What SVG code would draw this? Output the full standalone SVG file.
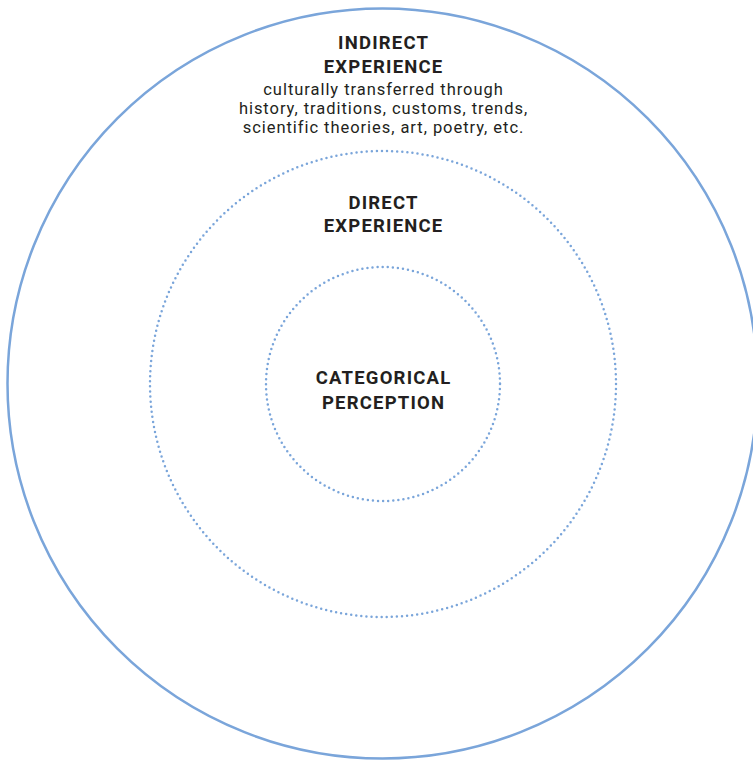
<svg xmlns="http://www.w3.org/2000/svg" width="753" height="760" viewBox="0 0 753 760">
  <style>
    .ring { fill: none; stroke: #7aa5da; }
    .solid { stroke-width: 2.5; }
    .dotted { stroke-width: 2.5; stroke-dasharray: 0 5.1; stroke-linecap: round; }
    .title { font-family: Roboto, "Liberation Sans", sans-serif; font-weight: 700; font-size: 18.5px; fill: #231f20; text-anchor: middle; letter-spacing: 1.2px; }
    .note { font-family: Roboto, "Liberation Sans", sans-serif; font-weight: 400; font-size: 16.5px; fill: #231f20; text-anchor: middle; letter-spacing: 0.95px; }
  </style>
  <rect width="753" height="760" fill="#ffffff"/>
  <g id="indirect-experience">
    <circle class="ring solid" cx="382.5" cy="383.5" r="375"/>
    <text class="title" x="383.6" y="48.5">INDIRECT</text>
    <text class="title" x="383.6" y="72.5">EXPERIENCE</text>
    <text class="note" x="383.5" y="95">culturally transferred through</text>
    <text class="note" x="383.5" y="114">history, traditions, customs, trends,</text>
    <text class="note" x="383.5" y="133">scientific theories, art, poetry, etc.</text>
  </g>
  <g id="direct-experience">
    <circle class="ring dotted" cx="383" cy="384" r="233"/>
    <text class="title" x="383.6" y="208.5">DIRECT</text>
    <text class="title" x="383.6" y="232">EXPERIENCE</text>
  </g>
  <g id="categorical-perception">
    <circle class="ring dotted" cx="383" cy="384" r="117"/>
    <text class="title" x="383.6" y="383.5">CATEGORICAL</text>
    <text class="title" x="383.6" y="408.5">PERCEPTION</text>
  </g>
  <g id="connectors"></g>
</svg>
